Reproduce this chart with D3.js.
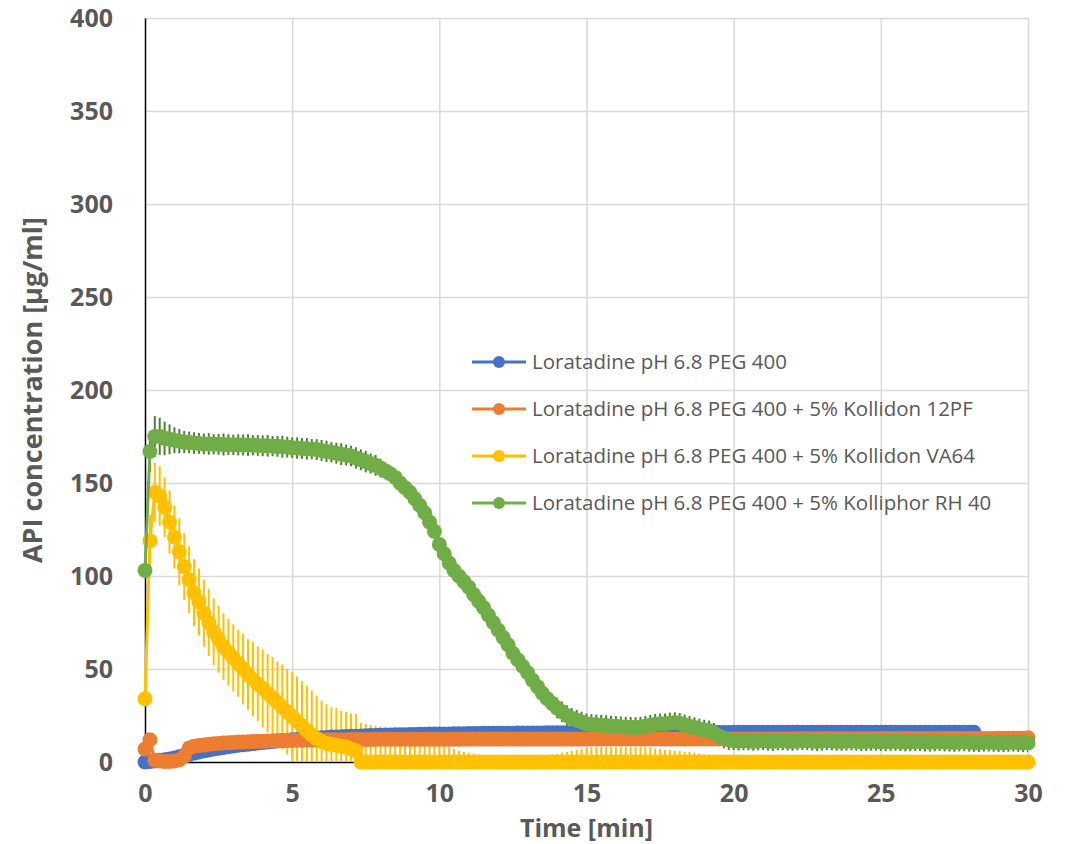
<!DOCTYPE html>
<html>
<head>
<meta charset="utf-8">
<script src="https://cdn.jsdelivr.net/npm/d3@7"></script>
<style>
  body { margin: 0; background: #fff; }
  svg { display: block; font-family: "Open Sans", sans-serif; }
</style>
</head>
<body>
<svg id="chart"></svg>
<script>
// Sampling interval of the measurements (10 s, in minutes)
const SAMPLE_STEP_MIN = 1 / 6;

const seriesNames = [
    "Loratadine pH 6.8 PEG 400",
    "Loratadine pH 6.8 PEG 400 + 5% Kollidon 12PF",
    "Loratadine pH 6.8 PEG 400 + 5% Kollidon VA64",
    "Loratadine pH 6.8 PEG 400 + 5% Kolliphor RH 40"
];
const seriesColors = ["#4472C4", "#ED7D31", "#FFC000", "#70AD47"];
const errorColors = [null, null, "#FFC000", "#4F8132"];

const xTicks = [0, 5, 10, 15, 20, 25, 30];
const yTicks = [0, 50, 100, 150, 200, 250, 300, 350, 400];

// Mean concentration, one value per sample
const peg400 = [
    0, 0.3, 0.6, 0.9, 1.2, 1.6, 2.1, 2.8, 3.5, 4.2, 4.8, 5.4,
    6, 6.5, 7, 7.4, 7.8, 8.2, 8.6, 9, 9.3, 9.6, 9.9, 10.2,
    10.5, 10.8, 11, 11.3, 11.5, 11.7, 11.9, 12.1, 12.3, 12.5, 12.7, 12.9,
    13.1, 13.2, 13.4, 13.5, 13.6, 13.7, 13.8, 13.9, 14, 14.1, 14.2, 14.3,
    14.4, 14.5, 14.5, 14.6, 14.7, 14.7, 14.8, 14.8, 14.9, 14.9, 15, 15,
    15.1, 15.1, 15.1, 15.2, 15.2, 15.2, 15.3, 15.3, 15.3, 15.4, 15.4, 15.4,
    15.5, 15.5, 15.5, 15.5, 15.6, 15.6, 15.6, 15.6, 15.6, 15.6, 15.7, 15.7,
    15.7, 15.7, 15.7, 15.7, 15.7, 15.7, 15.8, 15.8, 15.8, 15.8, 15.8, 15.8,
    15.8, 15.8, 15.8, 15.8, 15.8, 15.8, 15.8, 15.8, 15.8, 15.8, 15.8, 15.8,
    15.9, 15.9, 15.9, 15.9, 15.9, 15.9, 15.9, 15.9, 15.9, 15.9, 15.9, 15.9,
    16, 16, 16, 16, 16, 16, 16, 16, 16, 16, 16, 16,
    16, 16, 16, 16, 16, 16, 16, 16, 16, 16, 16, 16,
    16, 16, 16, 16, 16, 16, 16, 16, 16, 16, 16, 16,
    16, 16, 16, 16, 16, 16, 16, 16, 16, 16, 16, 16,
    16, 16
];

const kollidon12 = [
    7, 12, 1, 0.5, 0.3, 0.3, 0.5, 1.2, 3, 7.5, 8.5, 8.9,
    9.2, 9.5, 9.8, 10, 10.2, 10.4, 10.5, 10.7, 10.8, 10.9, 11, 11.1,
    11.2, 11.3, 11.4, 11.4, 11.5, 11.6, 11.6, 11.7, 11.7, 11.8, 11.8, 11.9,
    11.9, 11.9, 12, 12, 12, 12, 12.1, 12.1, 12.1, 12.1, 12.1, 12.2,
    12.2, 12.2, 12.2, 12.2, 12.2, 12.2, 12.2, 12.2, 12.2, 12.2, 12.2, 12.2,
    12.2, 12.2, 12.2, 12.2, 12.2, 12.2, 12.3, 12.3, 12.3, 12.3, 12.3, 12.3,
    12.3, 12.3, 12.3, 12.3, 12.3, 12.3, 12.3, 12.3, 12.3, 12.3, 12.3, 12.3,
    12.3, 12.3, 12.3, 12.3, 12.3, 12.3, 12.4, 12.4, 12.4, 12.4, 12.4, 12.4,
    12.4, 12.4, 12.4, 12.4, 12.4, 12.4, 12.4, 12.4, 12.4, 12.4, 12.4, 12.4,
    12.4, 12.4, 12.4, 12.4, 12.4, 12.4, 12.4, 12.4, 12.4, 12.4, 12.4, 12.4,
    12.4, 12.4, 12.4, 12.4, 12.4, 12.4, 12.4, 12.4, 12.4, 12.4, 12.4, 12.4,
    12.5, 12.5, 12.5, 12.5, 12.5, 12.5, 12.5, 12.5, 12.5, 12.5, 12.5, 12.5,
    12.5, 12.5, 12.5, 12.5, 12.5, 12.5, 12.6, 12.6, 12.6, 12.6, 12.6, 12.6,
    12.6, 12.6, 12.6, 12.6, 12.6, 12.6, 12.7, 12.7, 12.7, 12.7, 12.7, 12.7,
    12.7, 12.7, 12.7, 12.7, 12.7, 12.7, 12.8, 12.8, 12.8, 12.8, 12.8, 12.8,
    13
];

const kollidonVA64 = [
    34, 119, 145, 143, 137, 129, 121, 113, 105, 98, 91, 86,
    80, 75, 70, 66, 62, 59, 56, 53, 50, 47, 44.5, 42,
    39.5, 37, 34.5, 32, 29.5, 27, 24.5, 22, 19.5, 17, 14.5, 12.5,
    11, 10, 9.5, 9, 8.5, 8, 7, 6, 0, 0, 0, 0,
    0, 0, 0, 0, 0, 0, 0, 0, 0, 0, 0, 0,
    0, 0, 0, 0, 0, 0, 0, 0, 0, 0, 0, 0,
    0, 0, 0, 0, 0, 0, 0, 0, 0, 0, 0, 0,
    0, 0, 0, 0, 0, 0, 0, 0, 0, 0, 0, 0,
    0, 0, 0, 0, 0, 0, 0, 0, 0, 0, 0, 0,
    0, 0, 0, 0, 0, 0, 0, 0, 0, 0, 0, 0,
    0, 0, 0, 0, 0, 0, 0, 0, 0, 0, 0, 0,
    0, 0, 0, 0, 0, 0, 0, 0, 0, 0, 0, 0,
    0, 0, 0, 0, 0, 0, 0, 0, 0, 0, 0, 0,
    0, 0, 0, 0, 0, 0, 0, 0, 0, 0, 0, 0,
    0, 0, 0, 0, 0, 0, 0, 0, 0, 0, 0, 0,
    0
];

const kolliphorRH40 = [
    103, 167, 175, 175, 174, 173.5, 173, 172.5, 172, 171.8, 171.5, 171.3,
    171, 171, 170.8, 170.8, 170.7, 170.6, 170.5, 170.5, 170.4, 170.4, 170.3, 170.2,
    170, 170, 169.8, 169.7, 169.5, 169.3, 169, 168.8, 168.6, 168.4, 168.2, 168,
    167.5, 167, 166.5, 166, 165.5, 165, 164.5, 163.5, 162.5, 161.5, 160.5, 159.5,
    158, 156.5, 155, 153, 150, 147.5, 145, 141.5, 138, 134, 129, 124,
    117, 112, 107, 103, 100, 97, 94, 90, 86.5, 83, 79, 75,
    71, 67, 63, 58.5, 55, 51.5, 48, 44, 40.5, 37, 34, 31.5,
    29, 27, 25, 23.5, 22.5, 21.5, 20.5, 20.2, 20, 19.8, 19.6, 19.4,
    19.2, 19, 18.8, 18.7, 18.6, 18.8, 19.2, 19.8, 20.3, 20.6, 20.5, 21,
    21.2, 20.8, 20, 19.2, 18.5, 17.8, 17.2, 16.8, 15.5, 14, 12.8, 12,
    11.5, 11.2, 11.4, 11.3, 11.1, 11.3, 11.5, 11.2, 11.0, 11.3, 11.4, 11.2,
    11.1, 11.3, 11.5, 11.4, 11.2, 11.0, 11.2, 11.4, 11.3, 11.1, 11.0, 11.2,
    11.3, 11.1, 10.9, 11.0, 11.2, 11.1, 10.9, 10.8, 11.0, 11.1, 10.9, 10.7,
    10.8, 11.0, 10.9, 10.7, 10.6, 10.8, 10.9, 10.7, 10.6, 10.5, 10.7, 10.8,
    10.6, 10.5, 10.4, 10.6, 10.7, 10.5, 10.4, 10.3, 10.5, 10.6, 10.4, 10.3,
    10.2
];

// Standard deviation (error bars)
const kollidonVA64Err = [
    3, 14, 16, 16, 16, 17, 17, 18, 18, 18, 18, 18,
    18, 18, 18, 18, 18, 18, 18, 18, 19, 19, 20, 20,
    21, 21, 22, 22, 23, 23, 24, 24, 24, 24, 24, 23,
    22, 21, 20, 20, 19, 19, 19, 20, 21, 20.5, 20, 19.5,
    19, 18.5, 18, 17.5, 17, 16.5, 16, 15, 14.5, 14, 13, 11,
    10, 9, 8, 7, 6, 5.5, 5, 4.5, 4, 3.5, 3, 2.5,
    2.5, 2.5, 2.5, 2.5, 2.5, 2.5, 2.5, 2.5, 3, 3, 3.5, 4,
    4.5, 5, 5.5, 6, 6.5, 7, 7.5, 8, 8, 8, 8, 8,
    8, 8, 8, 8, 8, 8, 8, 7.5, 7, 7, 6.5, 6.5,
    6, 6, 5.5, 5.5, 5, 4.5, 4, 3.5, 3, 2, 0, 0,
    0, 0, 0, 0, 0, 0, 0, 0, 0, 0, 0, 0,
    0, 0, 0, 0, 0, 0, 0, 0, 0, 0, 0, 0,
    0, 0, 0, 0, 0, 0, 0, 0, 0, 0, 0, 0,
    0, 0, 0, 0, 0, 0, 0, 0, 0, 0, 0, 0,
    0, 0, 0, 0, 0, 0, 0, 0, 0, 0, 0, 0,
    0
];

const kolliphorRH40Err = [
    3, 11, 11, 10, 9, 8, 7, 6.5, 6, 5.8, 5.8, 5.6,
    5.6, 5.8, 5.4, 5.6, 5.9, 5.6, 5.5, 5.7, 5.6, 5.8, 5.4, 5.6,
    5.6, 5.8, 5.4, 5.6, 5.9, 5.6, 5.5, 5.7, 5.6, 5.8, 5.4, 5.6,
    5.6, 5.8, 5.4, 5.6, 5.9, 5.6, 5.5, 5.7, 5.6, 5.8, 5.4, 5.6,
    5, 4.5, 4, 3.5, 3, 3, 3, 3, 3, 3, 3, 3,
    3, 3, 3, 3, 3, 3, 3, 3, 3, 3, 3, 3,
    3, 3, 3, 3, 3, 3, 3, 3, 3, 3, 3, 3,
    5.5, 5.5, 5.5, 5.5, 5.5, 5.5, 5.5, 5.5, 5.5, 5.5, 5.5, 5.5,
    5.5, 5.5, 5.5, 5.5, 5.5, 5.5, 5.5, 5.5, 5.5, 5.5, 5.5, 5.5,
    5.5, 5.5, 5.5, 5.5, 5.5, 5.5, 5.5, 5.5, 5.5, 5.5, 5.5, 5.5,
    5, 5, 5, 5, 5, 5, 5, 5, 5, 5, 5, 5,
    5, 5, 5, 5, 5, 5, 5, 5, 5, 5, 5, 5,
    5, 5, 5, 5, 5, 5, 5, 5, 5, 5, 5, 5,
    5, 5, 5, 5, 5, 5, 5, 5, 5, 5, 5, 5,
    5, 5, 5, 5, 5, 5, 5, 5, 5, 5, 5, 5,
    5
];

const seriesValues = [peg400, kollidon12, kollidonVA64, kolliphorRH40];
const seriesErrors = [null, null, kollidonVA64Err, kolliphorRH40Err];

// Configuration
const totalWidth = 1068, totalHeight = 844;
const margin = { top: 18, right: 40, bottom: 82, left: 145 };
const width = totalWidth - margin.left - margin.right;
const height = totalHeight - margin.top - margin.bottom;
const textGray = "#595959";
const gridColor = "#d9d9d9";
const markerRadius = 7.5;

function createSvg() {
    return d3.select("#chart")
        .attr("width", totalWidth)
        .attr("height", totalHeight)
        .append("g")
        .attr("transform", `translate(${margin.left},${margin.top})`);
}

function createScales() {
    const xScale = d3.scaleLinear().domain([0, 30]).range([0, width]);
    const yScale = d3.scaleLinear().domain([0, 400]).range([height, 0]);
    return { xScale, yScale };
}

function buildData() {
    return seriesValues.map((vals, s) => vals.map((v, i) => ({
        t: i * SAMPLE_STEP_MIN,
        v: v,
        e: seriesErrors[s] ? seriesErrors[s][i] : 0
    })));
}

function drawGridlines(svg, scales) {
    const { xScale, yScale } = scales;

    svg.append("g")
        .attr("class", "grid")
        .attr("transform", `translate(0,${height})`)
        .call(d3.axisBottom(xScale).tickValues(xTicks.slice(1)).tickSize(-height).tickFormat(""))
        .call(g => g.select(".domain").remove());

    svg.append("g")
        .attr("class", "grid")
        .call(d3.axisLeft(yScale).tickValues(yTicks.slice(1)).tickSize(-width).tickFormat(""))
        .call(g => g.select(".domain").remove());

    svg.selectAll(".grid line")
        .attr("stroke", gridColor)
        .attr("stroke-width", 1.5);
}

function drawAxes(svg, scales) {
    const { xScale, yScale } = scales;

    const xAxis = svg.append("g")
        .attr("transform", `translate(0,${height})`)
        .call(d3.axisBottom(xScale).tickValues(xTicks).tickSize(0).tickPadding(22).tickFormat(d3.format("d")));

    const yAxis = svg.append("g")
        .call(d3.axisLeft(yScale).tickValues(yTicks).tickSize(0).tickPadding(32).tickFormat(d3.format("d")));

    [xAxis, yAxis].forEach(g => {
        g.select(".domain").attr("stroke", "#000").attr("stroke-width", 1.5);
        g.selectAll("text")
            .attr("fill", textGray)
            .style("font-size", "25px")
            .style("font-weight", "bold")
            .style("font-family", "'Open Sans', sans-serif");
    });

    svg.append("text")
        .attr("x", width / 2)
        .attr("y", height + 75)
        .attr("text-anchor", "middle")
        .attr("fill", textGray)
        .style("font-size", "25px")
        .style("font-weight", "bold")
        .text("Time [min]");

    svg.append("text")
        .attr("transform", `translate(${-103},${height / 2}) rotate(-90)`)
        .attr("text-anchor", "middle")
        .attr("fill", textGray)
        .style("font-size", "27px")
        .style("font-weight", "bold")
        .text("API concentration [µg/ml]");
}

function drawErrorBars(svg, scales, data) {
    const { xScale, yScale } = scales;

    svg.append("clipPath")
        .attr("id", "plot-clip")
        .append("rect")
        .attr("width", width)
        .attr("height", height);

    const layer = svg.append("g").attr("clip-path", "url(#plot-clip)");

    data.forEach((series, s) => {
        if (!seriesErrors[s]) return;
        layer.append("g")
            .selectAll("line")
            .data(series.filter(d => d.e > 0))
            .join("line")
            .attr("x1", d => xScale(d.t))
            .attr("x2", d => xScale(d.t))
            .attr("y1", d => yScale(d.v - d.e))
            .attr("y2", d => yScale(d.v + d.e))
            .attr("stroke", errorColors[s])
            .attr("stroke-width", 2);
    });
}

function drawSeries(svg, scales, data) {
    const { xScale, yScale } = scales;

    const line = d3.line()
        .x(d => xScale(d.t))
        .y(d => yScale(d.v));

    data.forEach((series, s) => {
        const g = svg.append("g");
        g.append("path")
            .datum(series)
            .attr("d", line)
            .attr("fill", "none")
            .attr("stroke", seriesColors[s])
            .attr("stroke-width", 3);

        g.selectAll("circle")
            .data(series)
            .join("circle")
            .attr("cx", d => xScale(d.t))
            .attr("cy", d => yScale(d.v))
            .attr("r", markerRadius)
            .attr("fill", seriesColors[s]);
    });
}

function drawLegend(svg) {
    const legend = svg.append("g")
        .attr("transform", `translate(${472 - margin.left},${362 - margin.top})`);

    const rows = legend.selectAll("g")
        .data(seriesNames)
        .join("g")
        .attr("transform", (d, i) => `translate(0,${i * 47})`);

    rows.append("line")
        .attr("x1", 0).attr("x2", 54)
        .attr("stroke", (d, i) => seriesColors[i])
        .attr("stroke-width", 3);

    rows.append("circle")
        .attr("cx", 27)
        .attr("r", 6)
        .attr("fill", (d, i) => seriesColors[i]);

    rows.append("text")
        .attr("x", 60)
        .attr("dy", "0.35em")
        .attr("fill", textGray)
        .style("font-size", "20.5px")
        .text(d => d);
}

function renderChart() {
    const svg = createSvg();
    const scales = createScales();
    const data = buildData();

    drawGridlines(svg, scales);
    drawAxes(svg, scales);
    drawErrorBars(svg, scales, data);
    drawSeries(svg, scales, data);
    drawLegend(svg);
}

renderChart();
</script>
</body>
</html>
